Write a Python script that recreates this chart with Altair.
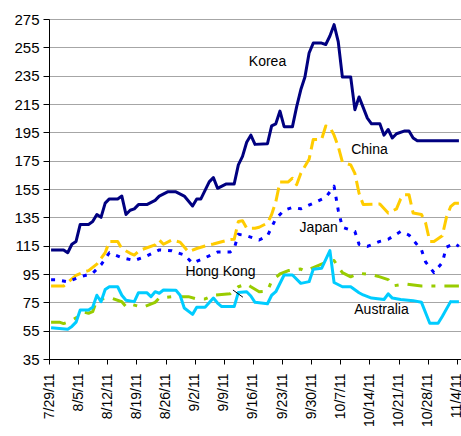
import altair as alt
import pandas as pd

START = pd.Timestamp("2011-07-29", tz="UTC")
DAY = 86400000
T0 = int(START.timestamp() * 1000)

# day offsets from 7/29/11 and values
korea_days = [0, 3, 4, 5, 6, 7, 9, 10, 11, 12, 13, 14, 16, 17, 18, 19, 20, 21, 23, 25,
              26, 28, 30, 32, 34, 35, 36, 38, 39, 40, 42, 44, 45, 46, 47, 48, 49, 52, 53, 54,
              55, 56, 58, 59, 60, 61, 62, 63, 65, 66, 67, 68, 69, 70, 72, 73, 74, 76, 77, 79,
              80, 81, 82, 83, 85, 86, 87, 88, 98]
korea_vals = [112, 112, 110, 116, 118, 130, 130, 132, 137, 135, 145, 148, 148, 150, 137, 140, 141, 144, 144, 147,
              150, 153, 153, 150, 143, 148, 148, 160, 163, 155.5, 158.5, 158.5, 172, 178, 188, 193, 186.5, 187, 199.5, 201,
              210, 199, 199, 213, 225, 234, 251, 258, 258, 257, 263, 271, 259, 234, 234, 211, 220, 205, 201, 201,
              193, 197, 191, 194, 196, 196, 191, 189, 189]

china_days = [0, 3, 4, 6, 8, 9, 11, 12, 13, 14, 16, 17, 19, 20, 21, 22, 25, 26, 27, 29,
              31, 32, 33, 35, 37, 39, 41, 43, 44, 45, 46, 47, 49, 50, 52, 53, 54, 55, 57, 58,
              59, 60, 62, 63, 65, 66, 67, 68, 69, 70, 72, 73, 74, 75, 79, 81, 83, 84, 85, 86,
              87, 89, 90, 91, 92, 94, 95, 96, 97, 98]
china_vals = [86.5, 86.5, 89, 94, 96.6, 97.4, 102, 106, 110, 118, 118, 113, 109.6, 108.4, 111, 112.4, 115.5, 119, 116, 119,
              117.5, 114, 110.7, 113, 114.8, 116.2, 117.8, 119.3, 119.5, 132, 132.6, 127.3, 127.3, 128, 131, 137, 146, 160, 160, 162.6,
              158, 166, 176, 190, 190, 199.5, 198.6, 193, 185, 174, 172, 166, 152, 144, 144.4, 138, 141, 148, 151, 151,
              138, 137, 131, 118, 118, 122, 135, 142.5, 145, 145]

japan_days = [0, 1, 4, 7, 10, 12, 14, 17, 20, 23, 26, 29, 32, 34, 37, 40, 43, 44, 45, 47,
              49, 50, 52, 53, 54, 56, 58, 60, 63, 66, 68, 69, 70, 73, 74, 76, 79, 81, 84, 86,
              88, 89, 90, 92, 94, 95, 97, 98]
japan_vals = [91, 91, 89.5, 93, 95.5, 101.5, 110, 106.5, 104.5, 107.7, 112, 111.4, 108.5, 102.6, 106.5, 110.5, 110.5, 113, 123, 122,
              120, 119, 122, 128, 134, 140, 142, 141, 145, 149, 157, 140, 128, 125, 116, 114.5, 118, 119.5, 125, 122.5,
              115.5, 112, 103.5, 96, 103, 114, 116.5, 114.5]

hk_days = [0, 2, 3, 4, 6, 8, 9, 10, 11, 14, 17, 18, 19, 22, 25, 26, 29, 33, 35, 37,
           39, 43, 45, 47, 48, 50, 52, 53, 55, 57, 60, 61, 63, 65, 67, 68, 69, 70, 72, 74,
           77, 79, 81, 82, 85, 89, 98]
hk_vals = [61, 61, 60, 61, 64, 68, 67.3, 68.4, 76.5, 78.5, 75.4, 72, 73.8, 71.5, 75, 78, 79, 79, 77.4, 77.4,
           80, 81, 86, 88, 86, 82.5, 83, 90, 95, 97.4, 98.5, 97, 99.5, 102, 104.5, 104.5, 100, 96, 93, 95.5,
           94.5, 93, 91, 86.5, 88, 86.5, 86.5]

aus_days = [0, 2, 4, 5, 6, 7, 9, 10, 11, 12, 13, 14, 16, 17, 18, 20, 21, 23, 24, 25,
            26, 27, 30, 31, 32, 34, 35, 37, 39, 40, 41, 44, 45, 47, 48, 49, 52, 53, 54, 56,
            58, 60, 62, 63, 65, 67, 68, 70, 72, 74, 75, 77, 80, 81, 82, 84, 87, 89, 91, 93,
            94, 96, 98]
aus_vals = [57, 56.5, 56, 58, 61, 69.6, 69.6, 71.5, 80, 75.4, 84, 86, 86, 80, 76.5, 75.5, 81.8, 81.8, 79, 82.5,
            81.4, 83.7, 83.5, 80, 71, 66.5, 71.5, 71.5, 78, 74.5, 72, 72, 82, 82.5, 79.5, 75, 74, 80, 82.5, 94.3,
            94.3, 88.4, 89.6, 98.3, 99, 111.5, 89, 86, 86, 81.8, 80.2, 78, 77, 81, 78, 77, 76.2, 75, 60.2, 60.2,
            65, 75.5, 75.4]

# annotation labels (day offset, value)
label_texts = ["Korea", "China", "Japan", "Hong Kong", "Australia"]
label_days = [52.5, 77.0, 64.8, 41.2, 79.9]
label_vals = [244.6, 182.5, 127.5, 96.4, 69.6]

# Hong Kong leader line
leader_days = [44.2, 46.6]
leader_vals = [83.7, 78.6]

tick_weeks = list(range(0, 99, 7))
y_ticks = list(range(35, 276, 20))

FONT = "Liberation Sans"


def ms(day):
    return T0 + int(day * DAY)


def frame(days, vals):
    return pd.DataFrame({"t": [ms(d + 0.5) for d in days], "value": vals})


x_scale = alt.Scale(type="utc", domain=[ms(0), ms(99)])
y_scale = alt.Scale(domain=[35, 275], nice=False, zero=False)

x_axis = alt.Axis(
    values=[ms(w) for w in tick_weeks],
    labelExpr="utcFormat(datum.value, '%-m/%-d/%y')",
    labelAngle=270, labelAlign="right", labelBaseline="middle",
    labelFont=FONT, labelFontSize=14, labelColor="black",
    labelPadding=9, tickSize=5, tickColor="black", domainColor="black",
    grid=False, title=None, labelOverlap=False, labelFlush=False,
)
y_axis = alt.Axis(
    values=y_ticks, labelFont=FONT, labelFontSize=15, labelColor="black",
    labelPadding=4, tickSize=6, tickColor="black", domainColor="black",
    grid=True, gridColor="#a6a6a6", gridWidth=1, title=None,
)

X = alt.X("t:T", scale=x_scale, axis=x_axis)
Y = alt.Y("value:Q", scale=y_scale, axis=y_axis)


def line(df, color, dash=None):
    kwargs = dict(color=color, strokeWidth=3, strokeCap="butt", strokeJoin="round")
    if dash:
        kwargs["strokeDash"] = dash
    return alt.Chart(df).mark_line(**kwargs).encode(x=X, y=Y)


korea = line(frame(korea_days, korea_vals), "#000080")
china = line(frame(china_days, china_vals), "#FFCC00", dash=[14, 6])
japan = line(frame(japan_days, japan_vals), "#0000FF", dash=[4, 7])
hk = line(frame(hk_days, hk_vals), "#99CC00", dash=[15, 9, 4, 9])
aus = line(frame(aus_days, aus_vals), "#00CCFF")

labels_df = pd.DataFrame({
    "text": label_texts,
    "t": [ms(d) for d in label_days],
    "value": label_vals,
})
labels = alt.Chart(labels_df).mark_text(
    font=FONT, fontSize=14, color="black", align="center", baseline="middle"
).encode(x=X, y=Y, text="text:N")

leader_df = pd.DataFrame({
    "t": [ms(leader_days[0])], "t2": [ms(leader_days[1])],
    "value": [leader_vals[0]], "value2": [leader_vals[1]],
})
leader = alt.Chart(leader_df).mark_rule(color="black", strokeWidth=1).encode(
    x=X, x2="t2:T", y=Y, y2="value2:Q",
)

chart = alt.layer(korea, china, japan, hk, aus, leader, labels).properties(
    width=412, height=340,
    autosize=alt.AutoSizeParams(type="none"),
    padding={"left": 49, "top": 19, "right": 0, "bottom": 77},
).configure_view(stroke=None).configure(background="white")

chart.save("out.html", embed_options={"renderer": "svg", "actions": False})
